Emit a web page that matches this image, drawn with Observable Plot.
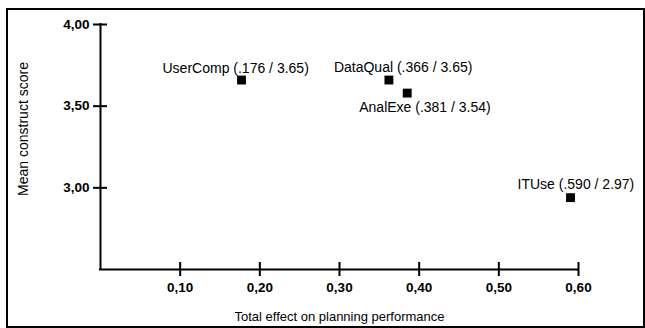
<!DOCTYPE html>
<html>
<head>
<meta charset="utf-8">
<script src="https://cdn.jsdelivr.net/npm/d3@7"></script>
<script src="https://cdn.jsdelivr.net/npm/@observablehq/plot@0.6"></script>
<style>
  html, body { margin: 0; padding: 0; background: #fff; }
  #wrap { position: relative; width: 645px; height: 328px; overflow: hidden; }
  #frame { position: absolute; left: 6px; top: 8px; right: 0; bottom: 0; border: 2px solid #000; box-sizing: border-box; pointer-events: none; }
  #chart svg { display: block; }
</style>
</head>
<body>
<div id="wrap"><div id="chart"></div><div id="frame"></div></div>
<script>
// ---- data ----
const names = ["UserComp", "DataQual", "AnalExe", "ITUse"];
const effect = [0.177, 0.362, 0.385, 0.590];   // plotted x
const score = [3.66, 3.66, 3.58, 2.94];         // plotted y
const labelEffect = [".176", ".366", ".381", ".590"];
const labelScore = ["3.65", "3.65", "3.54", "2.97"];
const xTicks = [0.1, 0.2, 0.3, 0.4, 0.5, 0.6];
const xTickLabels = ["0,10", "0,20", "0,30", "0,40", "0,50", "0,60"];
const yTicks = [3.0, 3.5, 4.0];
const yTickLabels = ["3,00", "3,50", "4,00"];
const xTitle = "Total effect on planning performance";
const yTitle = "Mean construct score";

// ---- layout (label offsets in pixels, not data) ----
const labelOffset = {
  UserComp: [-79, -12],
  DataQual: [-55, -13],
  AnalExe: [-48, 14],
  ITUse: [-53, -13]
};

const rows = names.map((n, i) => ({
  name: n, x: effect[i], y: score[i],
  label: `${n} (${labelEffect[i]} / ${labelScore[i]})`
}));
const xt = xTicks.map((v, i) => ({v, t: xTickLabels[i]}));
const yt = yTicks.map((v, i) => ({v, t: yTickLabels[i]}));

const xMin = 0, xMax = 0.6, yMin = 2.5, yMax = 4.0;

const labelMarks = rows.map(r => Plot.text([r], {
  x: "x", y: "y", text: "label",
  textAnchor: "start", lineAnchor: "middle",
  dx: labelOffset[r.name][0], dy: labelOffset[r.name][1],
  fontSize: 14, fill: "#000"
}));

const chart = Plot.plot({
  width: 645,
  height: 328,
  marginLeft: 100,
  marginRight: 67,
  marginTop: 24,
  marginBottom: 59,
  style: {fontFamily: "'Liberation Sans', Arial, sans-serif", background: "#fff", color: "#000"},
  x: {domain: [xMin, xMax], axis: null},
  y: {domain: [yMin, yMax], axis: null},
  marks: [
    // axis lines
    Plot.ruleY([yMin], {y: d => d, x1: () => xMin, x2: () => xMax, stroke: "#000", strokeWidth: 2, strokeLinecap: "square"}),
    Plot.ruleX([xMin], {x: d => d, y1: () => yMin, y2: () => yMax, stroke: "#000", strokeWidth: 2, strokeLinecap: "square"}),
    // crossing ticks
    Plot.ruleX(xt, {x: "v", y1: () => yMin, y2: () => yMin, insetTop: -7, insetBottom: -7, stroke: "#000", strokeWidth: 2}),
    Plot.ruleY(yt, {y: "v", x1: () => xMin, x2: () => xMin, insetLeft: -7, insetRight: -7, stroke: "#000", strokeWidth: 2}),
    // tick labels
    Plot.text(xt, {x: "v", y: () => yMin, text: "t", dy: 18, lineAnchor: "middle", fontSize: 13.5, fontWeight: "bold", fill: "#000"}),
    Plot.text(yt, {x: () => xMin, y: "v", text: "t", dx: -11, textAnchor: "end", lineAnchor: "middle", fontSize: 13.5, fontWeight: "bold", fill: "#000"}),
    // axis titles
    Plot.text([xTitle], {frameAnchor: "bottom", text: d => d, dy: 47, textAnchor: "middle", lineAnchor: "middle", fontSize: 13, fill: "#000"}),
    Plot.text([yTitle], {frameAnchor: "left", text: d => d, dx: -77, dy: -18, rotate: -90, textAnchor: "middle", lineAnchor: "middle", fontSize: 14, fill: "#000"}),
    // points
    Plot.dot(rows, {x: "x", y: "y", symbol: "square", r: 5, fill: "#000", stroke: null}),
    ...labelMarks
  ]
});
document.getElementById("chart").appendChild(chart);
</script>
</body>
</html>
